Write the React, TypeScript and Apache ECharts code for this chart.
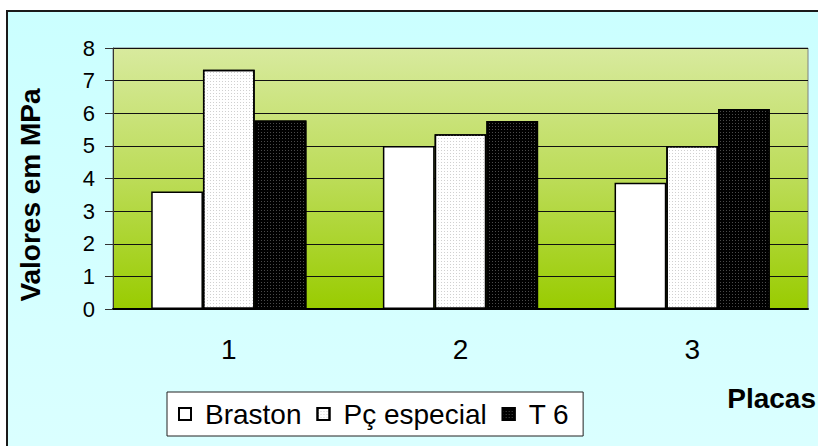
import React, { useEffect, useRef } from "react";
import * as echarts from "echarts";

// Plates tested and the measured strength per product (MPa)
const plates = ["1", "2", "3"];
const braston = [3.6, 5.0, 3.87];
const pcEspecial = [7.33, 5.36, 5.0];
const t6 = [5.78, 5.76, 6.13];
const yTicks = { min: 0, max: 8, interval: 1 };

const FONT = "'Liberation Sans', Arial, sans-serif";

export default function App() {
  const ref = useRef<HTMLDivElement>(null);

  useEffect(() => {
    if (!ref.current) return;
    const chart = echarts.init(ref.current, undefined, { renderer: "svg" });

    const barBase = {
      type: "bar" as const,
      barGap: "0%",
      barCategoryGap: "33%",
    };

    chart.setOption({
      animation: false,
      backgroundColor: "#ffffff",
      textStyle: { fontFamily: FONT },
      graphic: [
        {
          type: "rect",
          z: -10,
          silent: true,
          shape: { x: 7, y: 11, width: 840, height: 460 },
          style: {
            fill: new echarts.graphic.LinearGradient(0, 0, 0, 1, [
              { offset: 0, color: "#cbffff" },
              { offset: 1, color: "#dbffff" },
            ]),
            stroke: "#1a1a1a",
            lineWidth: 2,
          },
        },
        {
          type: "text",
          x: 30,
          y: 195,
          rotation: Math.PI / 2,
          style: {
            text: "Valores em MPa",
            font: `bold 28px ${FONT}`,
            fill: "#000",
            textAlign: "center",
            textVerticalAlign: "middle",
          },
        },
        {
          type: "text",
          x: 816,
          y: 398,
          style: {
            text: "Placas",
            font: `bold 28px ${FONT}`,
            fill: "#000",
            textAlign: "right",
            textVerticalAlign: "middle",
          },
        },
      ],
      grid: {
        show: true,
        left: 113,
        top: 48,
        width: 695,
        height: 261,
        backgroundColor: new echarts.graphic.LinearGradient(0, 0, 0, 1, [
          { offset: 0, color: "#d8ea9e" },
          { offset: 0.5, color: "#bcdc58" },
          { offset: 1, color: "#99cc00" },
        ]),
        borderColor: "#808080",
        borderWidth: 1,
      },
      legend: {
        left: 167,
        top: 392,
        padding: [8, 14, 8, 11],
        backgroundColor: "#ffffff",
        borderColor: "#222",
        borderWidth: 1,
        itemWidth: 12,
        itemHeight: 12,
        itemGap: 15,
        icon: "rect",
        textStyle: {
          fontFamily: FONT,
          fontSize: 28,
          color: "#000",
          padding: [0, 0, 0, 9],
        },
        data: ["Braston", "Pç especial", "T 6"],
      },
      xAxis: {
        type: "category",
        data: plates,
        axisLine: { lineStyle: { color: "#000", width: 2 } },
        axisTick: { length: 8, lineStyle: { color: "#333" } },
        axisLabel: { fontSize: 28, color: "#000", margin: 26, fontFamily: FONT },
      },
      yAxis: {
        type: "value",
        min: yTicks.min,
        max: yTicks.max,
        interval: yTicks.interval,
        axisLine: { show: true, lineStyle: { color: "#333", width: 1 } },
        axisTick: { show: true, length: 8, lineStyle: { color: "#333" } },
        axisLabel: { fontSize: 22, color: "#000", margin: 18, fontFamily: FONT },
        splitLine: { lineStyle: { color: "#111", width: 1 } },
      },
      series: [
        {
          ...barBase,
          name: "Braston",
          data: braston,
          itemStyle: { color: "#ffffff", borderColor: "#000", borderWidth: 1.5 },
        },
        {
          ...barBase,
          name: "Pç especial",
          data: pcEspecial,
          itemStyle: {
            color: "#ffffff",
            borderColor: "#000",
            borderWidth: 1.5,
            decal: {
              symbol: "rect",
              color: "#d0d0d0",
              symbolSize: 1,
              dashArrayX: [1, 2],
              dashArrayY: [1, 2],
            },
          },
        },
        {
          ...barBase,
          name: "T 6",
          data: t6,
          itemStyle: {
            color: "#000000",
            borderColor: "#000",
            borderWidth: 1.5,
            decal: {
              symbol: "rect",
              color: "#4a4a4a",
              symbolSize: 1,
              dashArrayX: [1, 2],
              dashArrayY: [1, 2],
            },
          },
        },
      ],
    });

    return () => chart.dispose();
  }, []);

  return (
    <div
      ref={ref}
      style={{ position: "absolute", left: 0, top: 0, width: 818, height: 446 }}
    />
  );
}
